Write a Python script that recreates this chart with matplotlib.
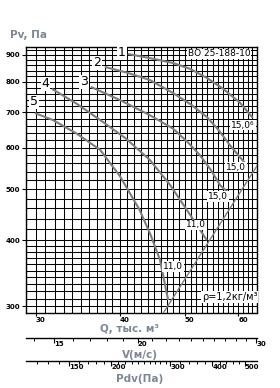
import numpy as np
import matplotlib
matplotlib.use("Agg")
import matplotlib.pyplot as plt

# ---------------- data ----------------
q1 = [41.1, 44.3, 48.0, 51.0, 53.9, 57.0, 60.4, 63.1]
p1 = [904, 888, 869, 846, 814, 776, 730, 683]

q2 = [38.0, 41.0, 44.3, 48.0, 51.0, 53.9, 56.0, 58.3, 61.4]
p2 = [854, 833, 807, 762, 725, 686, 650, 607, 561]

q3 = [36.2, 40.0, 44.3, 48.0, 50.5, 52.6, 54.6, 56.4, 57.9]
p3 = [783, 739, 692, 652, 614, 581, 545, 509, 494]

q4 = [31.7, 34.5, 37.4, 40.8, 44.3, 47.5, 50.9, 53.9]
p4 = [776, 727, 677, 625, 569, 510, 447, 400]

q5 = [29.9, 31.8, 34.5, 37.4, 40.0, 42.8, 44.5, 45.9, 47.2]
p5 = [698, 677, 638, 594, 530, 457, 408, 367, 308]

sys_q = [46.5, 64.0]
sys_p = [292, 554]

q_ticks = [30, 40, 50, 60]
p_ticks = [300, 400, 500, 600, 700, 800, 900]
v_ticks = [15, 20, 30]
pdv_ticks = [150, 200, 300, 400, 500]

rho = 1.2
v_per_q = 0.47          # V (m/s) per 1000 m3/h
q_lim = (29.0, 64.0)
p_lim = (291, 932)

# ---------------- figure ----------------
W, H = 280, 388
fig = plt.figure(figsize=(W / 100, H / 100), dpi=100)
fig.patch.set_facecolor("white")

def fx(px):
    return px / W

def fy(py):
    return 1 - py / H

L, R, T, B = 26, 257, 47, 313
ax = fig.add_axes([fx(L), fy(B), fx(R) - fx(L), fy(T) - fy(B)])
ax.set_xscale("log")
ax.set_yscale("log")
ax.set_xlim(*q_lim)
ax.set_ylim(*p_lim)

# grid
for q in range(29, 65):
    ax.axvline(q, color="black", lw=0.75, zorder=1)
hgrid = list(range(300, 400, 10)) + list(range(400, 921, 20))
for p in hgrid:
    ax.axhline(p, color="black", lw=0.75, zorder=1)

for s in ax.spines.values():
    s.set_linewidth(1.0)

curve_kw = dict(color="#7d7d7d", lw=1.5, zorder=3, solid_capstyle="butt")
for q, p in [(q1, p1), (q2, p2), (q3, p3), (q4, p4), (q5, p5)]:
    ax.plot(q, p, **curve_kw)
ax.plot(sys_q, sys_p, color="#7d7d7d", lw=1.0, zorder=3)

ax.xaxis.set_minor_locator(matplotlib.ticker.NullLocator())
ax.yaxis.set_minor_locator(matplotlib.ticker.NullLocator())
ax.set_xticks(q_ticks)
ax.set_xticklabels([str(v) for v in q_ticks])
ax.set_yticks(p_ticks)
ax.set_yticklabels([str(v) for v in p_ticks])
ax.tick_params(axis="y", length=3, width=0.8, labelsize=5, pad=1)
ax.tick_params(axis="x", length=2.5, width=0.8, labelsize=5, pad=0.3)
for lab in ax.get_xticklabels():
    lab.set_fontweight("bold")
    lab.set_ha("left")
for lab in ax.get_yticklabels():
    lab.set_fontweight("bold")

box = dict(facecolor="white", edgecolor="none", pad=0.6)
num_kw = dict(fontsize=9, ha="center", va="center", zorder=5, bbox=box)
ax.text(40.3, 908, "1", **num_kw)
ax.text(36.96, 869, "2", **num_kw)
ax.text(35.4, 800, "3", **num_kw)
ax.text(31.0, 793, "4", **num_kw)
ax.text(29.8, 733, "5", **num_kw)

pw_kw = dict(fontsize=6.5, ha="center", va="center", zorder=5, bbox=box)
ax.text(61.0, 662, "15,0⁶", **pw_kw)
ax.text(59.5, 551, "15,0", **pw_kw)
ax.text(56.0, 484, "15,0", **pw_kw)
ax.text(51.9, 428, "11,0", **pw_kw)
ax.text(48.0, 357, "11,0", **pw_kw)

ax.text(56.2, 904, "ВО 25-188-10", fontsize=6.5, ha="center", va="center",
        zorder=5, bbox=box)
ax.text(58.3, 312, "ρ=1,2кг/м³", fontsize=7, ha="center", va="center",
        zorder=5, bbox=box)

lab_col = "#7b8794"
fig.text(fx(10), fy(35), "Pv, Па", color=lab_col, fontsize=7.5,
         fontweight="bold", ha="left", va="center")
fig.text(fx(130), fy(329), "Q, тыс. м³", color=lab_col, fontsize=7.5,
         fontweight="bold", ha="center", va="center")
fig.text(fx(140), fy(355), "V(м/с)", color=lab_col, fontsize=7.5,
         fontweight="bold", ha="center", va="center")
fig.text(fx(140), fy(379), "Pdv(Па)", color=lab_col, fontsize=7.5,
         fontweight="bold", ha="center", va="center")

# ---------------- secondary scales ----------------
def scale_axis(py, major_vals, minor_vals, to_q):
    a = fig.add_axes([fx(L), fy(py), fx(R) - fx(L), 0.0001])
    a.set_xscale("log")
    a.set_xlim(*q_lim)
    a.set_ylim(0, 1)
    for k in ["left", "right", "top"]:
        a.spines[k].set_visible(False)
    a.spines["bottom"].set_linewidth(1.0)
    a.set_yticks([])
    a.patch.set_alpha(0)
    a.set_xticks([to_q(v) for v in major_vals])
    a.set_xticklabels([str(v) for v in major_vals])
    a.set_xticks([to_q(v) for v in minor_vals], minor=True)
    a.xaxis.set_minor_formatter(matplotlib.ticker.NullFormatter())
    a.tick_params(axis="x", which="major", length=3.5, width=0.8,
                  labelsize=5, pad=-1.5, direction="out")
    a.tick_params(axis="x", which="minor", length=2.2, width=0.7,
                  direction="out")
    for lab in a.get_xticklabels():
        lab.set_fontweight("bold")
        lab.set_ha("left")
    return a

v_minor = [v for v in range(14, 31) if v not in v_ticks]
scale_axis(338, v_ticks, v_minor, lambda v: v / v_per_q)

pdv_minor = [p for p in list(range(120, 300, 10)) + list(range(300, 520, 20))
             if p not in pdv_ticks]
scale_axis(361, pdv_ticks, pdv_minor,
           lambda pd: np.sqrt(pd / (rho / 2)) / v_per_q)

fig.savefig("out.png", dpi=100, facecolor="white")
